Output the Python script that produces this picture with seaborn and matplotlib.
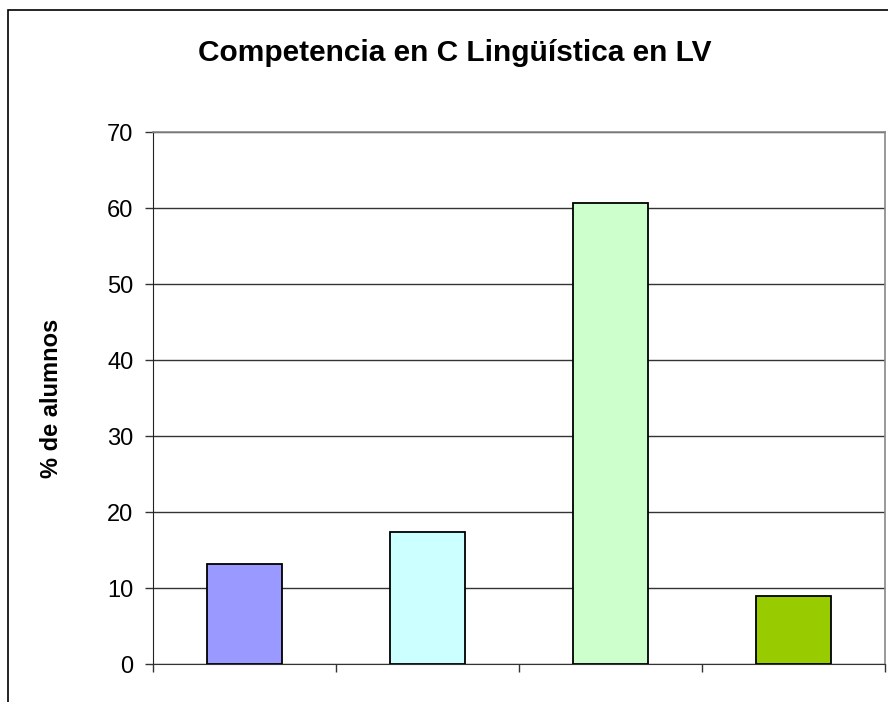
import matplotlib.pyplot as plt
import matplotlib.patches as mpatches
import numpy as np
import pandas as pd
import seaborn as sns

# Data
categories = ["Nivel 1", "Nivel 2", "Nivel 3", "Nivel 4"]
values = [13.2, 17.4, 60.6, 8.9]
bar_colors = ["#9999FF", "#CCFFFF", "#CCFFCC", "#99CC00"]
y_ticks = [0, 10, 20, 30, 40, 50, 60, 70]


def main():
    sns.set_style("white")
    plt.rcParams["font.family"] = ["Liberation Sans", "DejaVu Sans"]
    plt.rcParams["text.color"] = "black"
    plt.rcParams["axes.labelcolor"] = "black"

    df = pd.DataFrame({"categoria": categories, "valor": values})

    fig = plt.figure(figsize=(8.88, 7.02), dpi=100)
    ax = fig.add_axes([0.1723, 0.0541, 0.8243, 0.7578])

    sns.barplot(data=df, x="categoria", y="valor", hue="categoria",
                palette=bar_colors, saturation=1, width=0.41,
                edgecolor="black", linewidth=1.3, legend=False, ax=ax,
                zorder=3)

    ax.set_ylim(0, 70)
    ax.set_xlim(-0.5, len(categories) - 0.5)
    ax.set_yticks(y_ticks)
    ax.yaxis.grid(True, color="#333333", linewidth=1.0, zorder=0)
    ax.set_axisbelow(True)

    # x ticks sit on the category boundaries, no labels
    ax.set_xticks(np.arange(len(categories) + 1) - 0.5)
    ax.set_xticklabels([])
    ax.tick_params(axis="x", direction="out", length=6, width=1.0,
                   color="#333333", bottom=True)
    ax.tick_params(axis="y", direction="out", length=6, width=1.0,
                   color="#333333", left=True, labelsize=17,
                   labelcolor="black", pad=8)

    ax.set_xlabel("")
    ax.set_ylabel("% de alumnos", fontsize=17, fontweight="bold", labelpad=32)

    for side in ["top", "right"]:
        ax.spines[side].set_color("#888888")
        ax.spines[side].set_linewidth(1.2)
    ax.spines["left"].set_color("#222222")
    ax.spines["bottom"].set_color("#333333")

    fig.text(0.512, 0.924, "Competencia en C Lingüística en LV",
             ha="center", va="center", fontsize=21.5, fontweight="bold")

    # outer chart frame
    frame = mpatches.Rectangle((8 / 888, -0.02), 1.0, 1 - 10 / 702 + 0.02,
                               transform=fig.transFigure, fill=False,
                               edgecolor="black", linewidth=1.2)
    fig.patches.append(frame)

    fig.savefig("out.png", dpi=100)


if __name__ == "__main__":
    main()
